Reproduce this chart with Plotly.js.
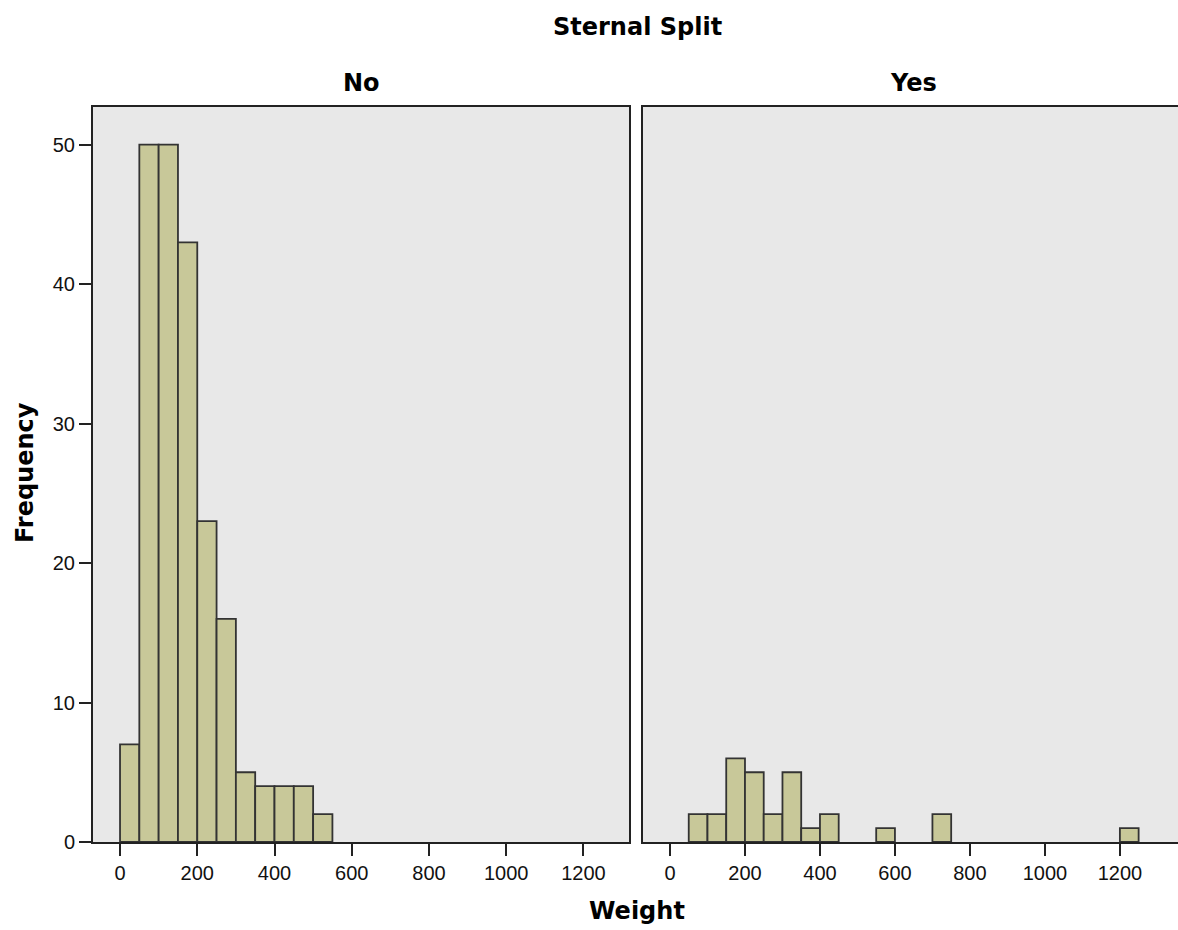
<!DOCTYPE html>
<html>
<head>
<meta charset="utf-8">
<script src="https://cdn.plot.ly/plotly-3.0.1.min.js"></script>
<style>html,body{margin:0;padding:0;background:#fff;}#chart{width:1178px;height:930px;}</style>
</head>
<body>
<div id="chart"></div>
<script>
// Histogram bins (width 50) and frequencies
const binWidth = 50;
const binStartNo = [0, 50, 100, 150, 200, 250, 300, 350, 400, 450, 500];
const countsNo = [7, 50, 50, 43, 23, 16, 5, 4, 4, 4, 2];
const binStartYes = [50, 100, 150, 200, 250, 300, 350, 400, 550, 700, 1200];
const countsYes = [2, 2, 6, 5, 2, 5, 1, 2, 1, 2, 1];
const xTicks = [0, 200, 400, 600, 800, 1000, 1200];
const yTicks = [0, 10, 20, 30, 40, 50];
const panelTitles = ["No", "Yes"];

const fill = '#c8c899';
const edge = '#333333';

const trNo = {
  type: 'bar', x: binStartNo.map(v => v + binWidth / 2), y: countsNo,
  width: binWidth, marker: {color: fill, line: {color: edge, width: 1.8}},
  xaxis: 'x', yaxis: 'y', hoverinfo: 'x+y'
};
const trYes = {
  type: 'bar', x: binStartYes.map(v => v + binWidth / 2), y: countsYes,
  width: binWidth, marker: {color: fill, line: {color: edge, width: 1.8}},
  xaxis: 'x2', yaxis: 'y2', hoverinfo: 'x+y'
};

const W = 1178, H = 930;
const yDom = [1 - 842 / H, 1 - 107 / H];
const tickFont = {family: 'Liberation Sans, Arial, sans-serif', size: 20, color: '#111'};
const titleFont = {family: 'DejaVu Sans, sans-serif', size: 24, color: '#000', weight: 'bold'};

const common = {
  ticks: 'outside', ticklen: 12, tickwidth: 2, tickcolor: '#222',
  showgrid: false, zeroline: false,
  showline: true, linecolor: '#222', linewidth: 2,
  tickfont: tickFont
};

const layout = {
  width: W, height: H,
  margin: {l: 0, r: 0, t: 0, b: 0},
  paper_bgcolor: '#ffffff',
  plot_bgcolor: '#e8e8e8',
  showlegend: false,
  bargap: 0,
  xaxis: Object.assign({}, common, {
    domain: [93 / W, 629 / W], range: [-70, 1318],
    tickvals: xTicks, ticktext: xTicks.map(String), mirror: true, anchor: 'y'
  }),
  yaxis: Object.assign({}, common, {
    domain: yDom, range: [0, 52.7],
    tickvals: yTicks, ticktext: yTicks.map(String), mirror: true, anchor: 'x'
  }),
  xaxis2: Object.assign({}, common, {
    domain: [643 / W, 1], range: [-72, 1355],
    tickvals: xTicks, ticktext: xTicks.map(String), mirror: true, anchor: 'y2'
  }),
  yaxis2: Object.assign({}, common, {
    domain: yDom, range: [0, 52.7],
    showticklabels: false, ticks: '', mirror: false, anchor: 'x2'
  }),
  annotations: [
    {text: 'Sternal Split', xref: 'paper', yref: 'paper', x: 637 / W, y: 1 - 27 / H,
     showarrow: false, font: titleFont, xanchor: 'center', yanchor: 'middle'},
    {text: panelTitles[0], xref: 'paper', yref: 'paper', x: 361 / W, y: 1 - 83 / H,
     showarrow: false, font: titleFont, xanchor: 'center', yanchor: 'middle'},
    {text: panelTitles[1], xref: 'paper', yref: 'paper', x: 913 / W, y: 1 - 83 / H,
     showarrow: false, font: titleFont, xanchor: 'center', yanchor: 'middle'},
    {text: 'Frequency', xref: 'paper', yref: 'paper', x: 25 / W, y: 1 - 473 / H,
     showarrow: false, font: titleFont, textangle: -90, xanchor: 'center', yanchor: 'middle'},
    {text: 'Weight', xref: 'paper', yref: 'paper', x: 637 / W, y: 1 - 911 / H,
     showarrow: false, font: titleFont, xanchor: 'center', yanchor: 'middle'}
  ]
};

Plotly.newPlot('chart', [trNo, trYes], layout, {displayModeBar: false, staticPlot: true});
</script>
</body>
</html>
